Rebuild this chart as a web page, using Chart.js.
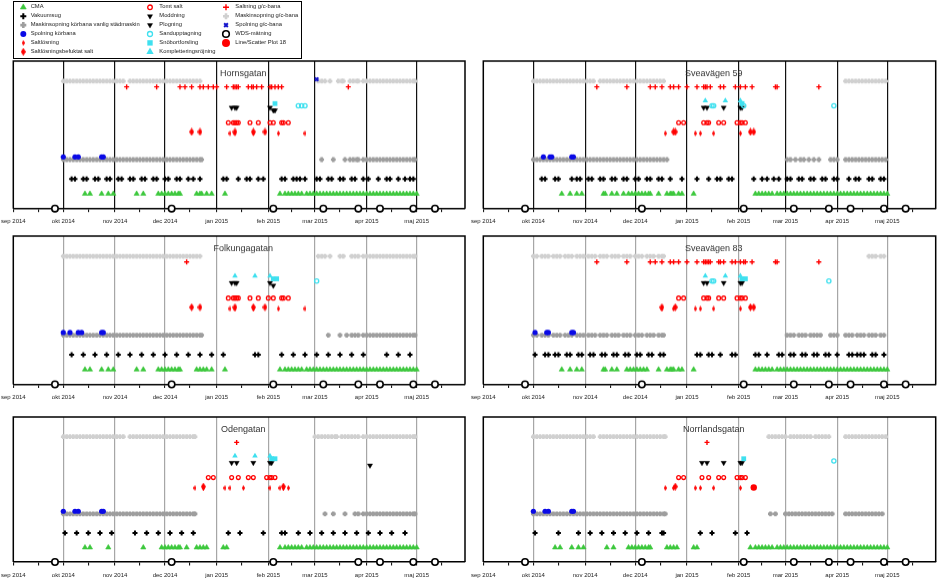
<!DOCTYPE html>
<html>
<head>
<meta charset="utf-8">
<script src="https://cdn.jsdelivr.net/npm/chart.js@4.4.1/dist/chart.umd.min.js"></script>
<style>
  body { margin: 0; background: #fff; width: 943px; height: 585px; overflow: hidden; position: relative;
         font-family: "Liberation Sans", Arial, sans-serif; }
  .panel { position: absolute; }
  #legend { position: absolute; left: 13px; top: 1px; width: 287px; height: 56px; border: 1px solid #000; background: #fff; }
  #legend canvas { position: absolute; left: 0; top: 0; }
  #legend span { position: absolute; font-size: 5.8px; line-height: 1; color: #222; white-space: nowrap; transform: translateY(-50%); }
</style>
</head>
<body>
<div id="legend"><canvas id="legendMarks" width="287" height="56"></canvas></div>
<script>
// x axis: months of the 2014/15 season
const xStart = '2014-09-01';
const xEnd = '2015-05-30';
const monthStarts = ['2014-09-01', '2014-10-01', '2014-11-01', '2014-12-01', '2015-01-01',
                     '2015-02-01', '2015-03-01', '2015-04-01', '2015-05-01'];
const monthLabels = ['sep 2014', 'okt 2014', 'nov 2014', 'dec 2014', 'jan 2015',
                     'feb 2015', 'mar 2015', 'apr 2015', 'maj 2015'];
const midMonths = ['2014-09-16', '2014-10-16', '2014-11-16', '2014-12-16', '2015-01-16',
                   '2015-02-15', '2015-03-16', '2015-04-16', '2015-05-16'];
const titleDate = '2015-01-17';

// activities (legend order) and the row each one is plotted on
const seriesKeys = ['cma', 'vakuum', 'sopK', 'spolK', 'saltlosning', 'befuktat',
                    'tomtSalt', 'moddning', 'plogning', 'sand', 'snobort', 'kompl',
                    'saltGc', 'sopGc', 'spolGc', 'wds', 'plot18'];
const seriesLabels = ['CMA', 'Vakuumsug', 'Maskinsopning körbana vanlig städmaskin', 'Spolning körbana',
                      'Saltlösning', 'Saltlösningsbefuktat salt',
                      'Tomt salt', 'Moddning', 'Plogning', 'Sandupptagning', 'Snöbortforsling', 'Kompletteringsröjning',
                      'Saltning g/c-bana', 'Maskinsopning g/c-bana', 'Spolning g/c-bana', 'WDS-mätning', 'Line/Scatter Plot 18'];
const rowLevels = [1.0, 2.0, 3.32, 3.5, 5.1, 5.2,
                   5.82, 6.84, 6.66, 6.97, 7.12, 7.31,
                   8.25, 8.64, 8.77, 0, 5.14];

// dates per street: "M/D" starts a month, bare numbers continue it (sep-dec = 2014, jan-maj = 2015)
const hornsgatan = {
  title: 'Hornsgatan',
  cma: '10/14 17 24 28 31 11/14 18 27 29 12/1 3 5 7 9 10 20 22 23 26 29 1/6 2/8 11 13 15 17 19 21 24 26 28 3/2 4 6 8 10 12 14 16 18 20 22 24 26 28 30 4/1 3 5 7 9 11 13 15 17 19 21 23 25 27 29 5/1',
  vakuum: '10/6 8 13 15 20 22 27 29 11/3 5 10 12 17 19 24 26 12/1 3 8 10 15 18 22 1/5 7 14 19 21 26 29 2/9 11 16 18 20 23 3/2 4 9 11 16 18 23 25 30 4/2 8 13 15 20 24 27 29',
  sopK: '10/1 3 5 7 9 11 13 15 17 19 21 23 25 27 29 31 11/2 4 6 8 10 12 14 16 18 20 22 24 26 28 30 12/2 4 6 8 10 12 14 16 18 20 22 23 3/5 12 19 22 24 26 27 30 4/1 3 5 7 9 11 13 15 17 19 21 23 25 27 29 30',
  spolK: '10/1 8 10 24 25',
  saltlosning: '1/9 12 23 2/7 23',
  befuktat: '12/17 22 1/12 23 30',
  tomtSalt: '1/8 11 12 13 14 21 26 2/2 4 9 10 13',
  moddning: '1/10 12 13 2/2',
  plogning: '2/4 5',
  sand: '2/19 21 23',
  snobort: '2/5',
  saltGc: '11/8 26 12/10 13 17 22 24 27 30 1/1 7 11 12 13 14 20 22 23 25 28 2/2 3 5 7 9 3/21',
  sopGc: '10/1 3 5 7 9 11 13 15 17 19 21 23 25 27 29 31 11/2 4 6 10 12 14 16 18 20 22 24 26 28 30 12/2 4 6 8 10 12 14 16 18 20 22 3/3 5 7 10 15 17 18 22 24 26 27 30 4/1 3 5 7 9 11 13 15 17 19 21 23 25 27 29 30',
  spolGc: '3/2',
  wds: '9/26 12/5 2/4 3/6 27 4/9 29 5/12'
};

const sveavagen59 = {
  title: 'Sveavägen 59',
  cma: '10/18 23 27 30 11/12 13 17 20 24 27 29 12/1 3 5 7 9 10 15 20 22 23 24 27 29 1/5 2/11 13 15 17 19 21 24 26 28 3/2 4 6 8 10 12 14 16 18 20 22 24 26 28 30 4/1 3 5 7 9 11 13 15 17 19 21 23 25 27 29 5/1',
  vakuum: '10/6 8 14 16 24 27 29 11/3 5 10 12 17 19 24 26 12/1 3 8 10 15 17 22 29 1/7 14 19 21 26 28 2/10 15 18 22 25 3/2 4 9 11 16 18 23 25 30 4/1 8 12 14 20 22 27 29',
  sopK: '10/1 3 5 7 9 11 13 15 17 19 21 23 25 27 29 31 11/2 4 6 8 10 12 14 16 18 20 22 24 26 28 30 12/2 4 6 8 10 12 14 16 18 20 3/2 4 7 10 12 15 18 21 28 30 4/1 6 8 10 12 14 16 18 20 22 24 26 28 30',
  spolK: '10/7 11 12 24 25',
  saltlosning: '12/19 1/6 9 17 2/2',
  befuktat: '12/24 25 2/8 10',
  tomtSalt: '12/27 30 1/11 13 14 20 23 31 2/2 3 5',
  moddning: '1/11 13 23 2/2 3',
  sand: '1/16 17 2/4 3/30',
  snobort: '2/3',
  kompl: '1/12 24 2/2',
  saltGc: '11/8 26 12/10 13 17 22 24 27 1/1 7 11 12 13 15 21 23 30 2/2 5 9 23 24 3/21',
  sopGc: '10/1 3 5 7 9 11 13 15 17 19 21 23 25 27 29 31 11/2 4 6 10 12 14 16 18 20 22 24 26 28 30 12/2 4 6 8 10 12 14 16 18 4/6 8 10 12 14 16 18 20 22 24 26 28 30',
  wds: '9/26 12/5 2/4 3/6 27 4/9 29 5/12'
};

const folkungagatan = {
  title: 'Folkungagatan',
  cma: '10/14 17 24 28 31 11/14 18 27 29 12/1 3 5 7 9 10 20 22 24 26 29 1/6 2/8 11 13 15 17 19 21 24 26 28 3/2 4 6 8 10 12 14 16 18 20 22 24 26 28 30 4/1 3 5 7 9 11 13 15 17 19 21 23 25 27 29 5/1',
  vakuum: '10/6 13 20 27 11/3 10 17 24 12/1 8 15 22 29 1/5 24 26 2/9 16 23 3/2 9 16 23 30 4/13 20 27',
  sopK: '10/1 3 5 7 9 11 13 15 17 19 21 23 25 27 29 31 11/2 4 6 8 10 12 14 16 18 20 22 24 26 28 30 12/2 4 6 8 10 12 14 16 18 20 22 23 3/9 16 20 23 25 27 30 4/1 3 5 7 9 11 13 15 17 19 21 23 25 27 29 30',
  spolK: '10/1 5 10 12 24 25',
  saltlosning: '1/9 12 23 2/7 23',
  befuktat: '12/17 22 1/12 23 30',
  tomtSalt: '1/8 11 12 13 14 21 26 2/1 4 9 10 13',
  moddning: '1/10 12 13 2/2',
  plogning: '2/4',
  sand: '3/2',
  snobort: '2/4 6',
  kompl: '1/12 24 2/2',
  saltGc: '12/14',
  sopGc: '10/1 3 5 7 9 11 13 15 17 19 21 23 25 27 29 31 11/2 4 6 8 10 12 14 16 18 20 22 24 26 28 30 12/2 4 6 8 10 12 14 16 18 20 22 3/3 5 7 10 16 18 23 25 27 30 4/1 3 5 7 9 11 13 15 17 19 21 23 25 27 29 30',
  wds: '9/26 12/5 2/4 3/6 27 4/9 29 5/12'
};

const sveavagen83 = {
  title: 'Sveavägen 83',
  cma: '10/18 23 27 30 11/12 13 17 20 26 28 30 12/2 4 6 8 15 20 22 23 24 27 29 1/5 2/11 13 15 17 19 21 24 26 28 3/2 4 6 8 10 12 14 16 18 20 22 24 26 28 30 4/1 3 5 7 9 11 13 15 17 19 21 23 25 27 29 5/1',
  vakuum: '10/2 8 10 14 16 21 23 28 30 11/4 6 11 13 18 20 25 27 12/2 4 9 11 16 18 1/7 9 14 16 21 28 30 2/11 13 18 25 27 3/4 6 11 13 18 20 25 27 4/1 8 10 13 15 17 22 24 29',
  sopK: '10/1 3 6 8 10 13 15 17 20 22 24 27 29 31 11/3 5 7 10 12 14 17 19 21 24 26 28 12/1 3 5 8 10 12 15 17 18 3/2 4 6 9 11 13 16 18 20 22 28 30 4/1 6 8 10 13 15 17 20 22 24 27 29',
  spolK: '10/2 9 10 24 25',
  saltlosning: '12/17 24 1/6 9 17 2/2',
  befuktat: '12/17 25 2/8 10',
  tomtSalt: '12/27 30 1/11 13 14 20 23 31 2/2 3 5',
  moddning: '1/11 13 23 2/2 3',
  sand: '1/16 17 3/27',
  snobort: '2/3 5',
  kompl: '1/12 24 2/2',
  saltGc: '11/8 26 12/10 13 17 22 24 27 1/1 7 11 12 13 14 15 20 21 23 28 30 2/2 4 5 9 23 24 3/21',
  sopGc: '10/1 3 6 8 10 13 15 17 20 22 24 27 29 31 11/3 5 7 10 12 14 17 19 21 24 26 28 12/1 3 5 8 10 12 15 17 18 4/20 22 24 27 29',
  wds: '9/26 12/5 2/4 3/6 27 4/9 29 5/12'
};

const odengatan = {
  title: 'Odengatan',
  cma: '10/14 17 28 11/18 29 12/1 3 5 7 9 10 14 20 22 24 26 1/5 7 2/8 11 13 15 17 19 21 24 26 28 3/2 4 6 8 10 12 14 16 18 20 22 24 26 28 30 4/1 3 5 7 9 11 13 15 17 19 21 23 25 27 29 5/1',
  vakuum: '10/2 9 16 23 30 11/13 20 27 12/4 11 18 1/8 15 29 2/9 11 19 26 3/5 12 19 26 4/2 9 16 24',
  sopK: '10/1 3 5 7 9 11 13 15 17 19 21 23 25 27 29 31 11/2 4 6 8 10 12 14 16 18 20 22 24 26 28 30 12/2 4 6 8 10 12 14 16 18 19 3/7 12 19 25 27 30 4/1 3 5 7 9 11 13 15 17 19 21 23 25 27 29 30',
  spolK: '10/1 8 10 24 25',
  saltlosning: '12/19 24 1/6 9 17 2/2 8 10 13',
  befuktat: '12/24 2/10',
  tomtSalt: '12/27 30 1/10 14 20 23 31 2/2 3 5',
  moddning: '1/10 13 23 2/2 3',
  plogning: '4/3',
  snobort: '2/3 5',
  kompl: '1/12 24 2/2',
  saltGc: '1/13',
  sopGc: '10/1 3 5 7 9 11 13 15 17 19 21 23 25 27 29 31 11/2 4 6 10 12 14 16 18 20 22 24 26 28 30 12/2 4 6 8 10 12 14 16 18 19 3/1 3 5 7 9 11 13 14 17 19 21 23 25 27 30 4/1 3 5 7 9 11 13 15 17 19 21 23 25 27 29 30',
  wds: '9/26 12/5 2/4 3/27 4/9 29 5/12'
};

const norrlandsgatan = {
  title: 'Norrlandsgatan',
  cma: '10/14 17 24 28 31 11/14 18 27 29 12/1 3 5 7 9 10 20 22 24 26 1/5 7 2/8 11 13 15 17 19 21 24 26 28 3/2 4 6 8 10 12 14 16 18 20 22 24 26 28 30 4/1 3 5 7 9 11 13 15 17 19 21 23 25 27 29 5/1',
  vakuum: '10/2 16 28 11/4 11 18 25 12/2 9 17 18 1/9 16 30 2/6',
  sopK: '10/1 3 5 7 9 11 13 15 17 19 21 23 25 27 29 31 11/2 4 6 8 10 12 14 16 18 20 22 24 26 28 30 12/2 4 6 8 10 12 14 16 18 19 2/20 23 3/1 3 5 7 9 11 13 15 17 19 21 23 25 27 29 4/6 8 10 12 14 16 18 20 22 24 26 28',
  spolK: '10/1 8 10 24 25',
  saltlosning: '12/19 24 1/6 9 17 2/2',
  befuktat: '12/25',
  plot18: '2/10',
  tomtSalt: '12/27 30 1/10 14 20 23 31 2/2 3 5',
  moddning: '1/10 13 23 2/2 3',
  sand: '3/30',
  snobort: '2/4',
  saltGc: '1/13',
  sopGc: '10/1 3 5 7 9 11 13 15 17 19 21 23 25 27 29 31 11/2 4 6 10 12 14 16 18 20 22 24 26 28 30 12/2 4 6 8 10 12 14 16 18 19 2/19 21 23 25 27 3/1 4 6 8 10 12 14 16 19 21 23 25 27 4/6 8 10 12 14 16 18 20 22 24 26 28 30',
  wds: '9/26 12/5 2/4 3/6 27 4/9 29 5/12'
};

const streets = [hornsgatan, sveavagen59, folkungagatan, sveavagen83, odengatan, norrlandsgatan];

// ---------- helpers ----------
const BASE = Date.UTC(2014, 8, 1);
function dayOf(iso) {
  const [y, m, d] = iso.split('-').map(Number);
  return (Date.UTC(y, m - 1, d) - BASE) / 864e5;
}
function parseDates(str) {
  let month = 1;
  return str.trim().split(/\s+/).map(tok => {
    let d;
    if (tok.includes('/')) { const p = tok.split('/'); month = +p[0]; d = +p[1]; }
    else d = +tok;
    const year = month >= 9 ? 2014 : 2015;
    return (Date.UTC(year, month - 1, d) - BASE) / 864e5;
  });
}
function diamond(w, h, color) {
  const c = document.createElement('canvas');
  c.width = w; c.height = h;
  const g = c.getContext('2d');
  g.fillStyle = color;
  g.beginPath();
  g.moveTo(w / 2, 0); g.lineTo(w, h / 2); g.lineTo(w / 2, h); g.lineTo(0, h / 2);
  g.closePath(); g.fill();
  return c;
}

const RED = '#FF0000', CYAN = '#3FE0EF', GREEN = '#3CC83C', BLUE = '#0A0AE6';
const markers = {
  cma:         { style: 'triangle', color: GREEN, fill: GREEN, r: 3, bw: 0.6, lr: 3.4 },
  vakuum:      { style: 'cross', color: '#000', r: 2.5, bw: 2, lr: 3 },
  sopK:        { style: 'cross', color: '#9E9E9E', r: 2.4, bw: 2.6, lr: 3 },
  spolK:       { style: 'circle', color: BLUE, fill: BLUE, r: 2.6, bw: 0, lr: 3 },
  saltlosning: { style: diamond(3, 6, RED), color: RED, r: 2, bw: 0, lr: 2 },
  befuktat:    { style: diamond(5, 8, RED), color: RED, r: 2, bw: 0, lr: 2 },
  tomtSalt:    { style: 'circle', color: RED, fill: 'rgba(0,0,0,0)', r: 1.9, bw: 1.3, lr: 2.3 },
  moddning:    { style: 'triangle', rot: 180, color: '#000', fill: '#000', r: 3, bw: 0.4, lr: 3 },
  plogning:    { style: 'triangle', rot: 180, color: '#000', fill: '#000', r: 3, bw: 0.4, lr: 3 },
  sand:        { style: 'circle', color: CYAN, fill: 'rgba(0,0,0,0)', r: 2.1, bw: 1.3, lr: 2.5 },
  snobort:     { style: 'rect', color: CYAN, fill: CYAN, r: 3.4, bw: 0, lr: 3.8 },
  kompl:       { style: 'triangle', color: CYAN, fill: CYAN, r: 3.2, bw: 0, lr: 4.2 },
  saltGc:      { style: 'cross', color: RED, r: 2.5, bw: 1.4, lr: 3 },
  sopGc:       { style: 'cross', color: '#D0D0D0', r: 2.4, bw: 2.6, lr: 3 },
  spolGc:      { style: 'crossRot', color: '#1414CC', r: 2.4, bw: 2, lr: 2.6 },
  wds:         { style: 'circle', color: '#000', fill: '#fff', r: 3.2, bw: 1.6, lr: 3.3 },
  plot18:      { style: 'circle', color: RED, fill: RED, r: 3.2, bw: 0, lr: 4 }
};
// draw order: first dataset ends up on top
const drawOrder = ['wds', 'spolGc', 'spolK', 'plot18', 'kompl', 'snobort', 'sand', 'moddning', 'plogning',
                   'tomtSalt', 'befuktat', 'saltlosning', 'saltGc', 'sopGc', 'sopK', 'vakuum', 'cma'];

const monthDays = monthStarts.map(dayOf);
const tickDays = monthDays.concat(midMonths.map(dayOf)).sort((a, b) => a - b);
const titleDay = dayOf(titleDate);

const framePlugin = {
  id: 'frame',
  beforeDatasetsDraw(chart, args, opts) {
    const { ctx, chartArea: a } = chart;
    ctx.save();
    ctx.strokeStyle = '#000';
    ctx.lineWidth = 1.5;
    ctx.beginPath();
    ctx.moveTo(a.left, a.bottom); ctx.lineTo(a.left, a.top);
    ctx.lineTo(a.right, a.top); ctx.lineTo(a.right, a.bottom);
    ctx.stroke();
    ctx.font = '9px "Liberation Sans", Arial, sans-serif';
    ctx.fillStyle = '#333';
    ctx.textAlign = 'center';
    ctx.textBaseline = 'middle';
    ctx.fillText(opts.title, chart.scales.x.getPixelForValue(titleDay), chart.scales.y.getPixelForValue(9.15));
    ctx.restore();
  }
};

const rows = [
  { top: 61, bottom: 207.7, grid: '#111' },
  { top: 236, bottom: 383.5, grid: '#A6A6A6' },
  { top: 416.7, bottom: 561.7, grid: '#A6A6A6' }
];
const cols = [
  { left: 0, width: 470, pl: 13.3, pr: 5 },
  { left: 470, width: 473, pl: 13.3, pr: 7.3 }
];
const AXIS_H = 24;

streets.forEach((street, i) => {
  const row = rows[Math.floor(i / 2)], col = cols[i % 2];
  const box = document.createElement('div');
  box.className = 'panel';
  box.style.left = col.left + 'px';
  box.style.top = (row.top - 6) + 'px';
  box.style.width = col.width + 'px';
  box.style.height = (row.bottom - row.top + 6 + AXIS_H) + 'px';
  const canvas = document.createElement('canvas');
  box.appendChild(canvas);
  document.body.appendChild(box);

  const datasets = drawOrder.filter(k => street[k]).map(k => {
    const m = markers[k];
    const level = rowLevels[seriesKeys.indexOf(k)];
    return {
      label: seriesLabels[seriesKeys.indexOf(k)],
      data: parseDates(street[k]).map(x => ({ x, y: level })),
      pointStyle: m.style,
      pointRotation: m.rot || 0,
      pointRadius: m.r,
      pointBorderWidth: m.bw,
      pointBorderColor: m.color,
      pointBackgroundColor: m.fill || m.color,
      clip: false
    };
  });

  new Chart(canvas, {
    type: 'scatter',
    data: { datasets },
    plugins: [framePlugin],
    options: {
      responsive: true,
      maintainAspectRatio: false,
      animation: false,
      events: [],
      layout: { autoPadding: false, padding: { left: col.pl, right: col.pr, top: 6, bottom: 0 } },
      plugins: { legend: { display: false }, tooltip: { enabled: false }, frame: { title: street.title } },
      scales: {
        x: {
          type: 'linear',
          bounds: 'data',
          min: dayOf(xStart),
          max: dayOf(xEnd),
          afterBuildTicks: s => { s.ticks = tickDays.map(v => ({ value: v, month: monthDays.includes(v) })); },
          afterFit: s => { s.height = AXIS_H; s.paddingLeft = 0; s.paddingRight = 0; },
          ticks: {
            autoSkip: false, maxRotation: 0, minRotation: 0, padding: 6,
            color: '#222', font: { size: 6, family: '"Liberation Sans", Arial, sans-serif' },
            callback: v => { const k = monthDays.indexOf(v); return k >= 0 ? monthLabels[k] : ''; }
          },
          grid: {
            color: c => (c.tick && c.tick.month && c.tick.value > 0) ? row.grid : 'rgba(0,0,0,0)',
            lineWidth: 1.2,
            tickColor: '#000',
            tickWidth: 1,
            tickLength: 3.5
          },
          border: { display: true, color: '#000', width: 1.5 }
        },
        y: { display: false, min: 0, max: 10 }
      }
    }
  });
});

// legend: three columns of markers and labels
const legendEl = document.getElementById('legend');
const lctx = document.getElementById('legendMarks').getContext('2d');
const markX = [9.3, 136, 212], textX = [16.7, 145.3, 221.3];
seriesKeys.forEach((k, i) => {
  const c = Math.floor(i / 6), r = i % 6;
  const y = 5.3 + r * 8.9;
  const m = markers[k];
  if (Chart.helpers && Chart.helpers.drawPoint) {
    lctx.save();
    lctx.fillStyle = m.fill || m.color;
    lctx.strokeStyle = m.color;
    lctx.lineWidth = m.bw;
    Chart.helpers.drawPoint(lctx, { pointStyle: m.style, rotation: m.rot || 0, radius: m.lr, borderWidth: m.bw }, markX[c], y);
    lctx.restore();
  }
  const s = document.createElement('span');
  s.textContent = seriesLabels[i];
  s.style.left = textX[c] + 'px';
  s.style.top = y + 'px';
  legendEl.appendChild(s);
});
</script>
</body>
</html>
